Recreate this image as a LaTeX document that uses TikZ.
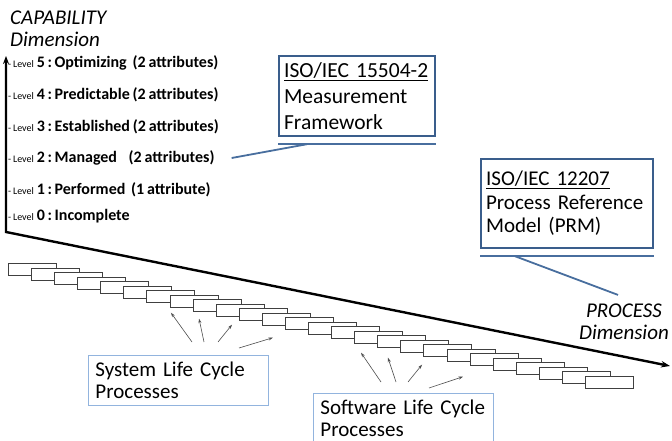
\documentclass[tikz,border=0pt]{standalone}
\usepackage{fontspec}
\setmainfont{Carlito}[WordSpace=0.8]
\usetikzlibrary{arrows.meta}

\definecolor{boxblue}{RGB}{58,94,140}
\definecolor{lineblue}{RGB}{72,110,158}
\definecolor{paleblue}{RGB}{146,180,222}

\begin{document}
\begin{tikzpicture}[x=1pt,y=-1pt,>=Stealth,
  lvl/.style={anchor=west,inner sep=0pt,font=\fontsize{16}{17}\selectfont\bfseries},
  axislab/.style={inner sep=0pt,font=\fontsize{21}{22}\selectfont\itshape},
  axis/.style={line width=2.4pt,line join=miter,{Stealth[length=8pt,width=6pt]}-{Stealth[length=9pt,width=6.5pt]}},
  stdbox/.style={draw=boxblue,line width=2.2pt,anchor=north west,align=left,inner xsep=5pt,font=\fontsize{21.5}{26}\selectfont},
  procbox/.style={draw=paleblue,line width=0.9pt,anchor=north west,align=left,inner xsep=7pt,minimum height=50,text width=166,font=\fontsize{21}{22.5}\selectfont},
  stair/.style={draw=black!75,fill=white,line width=0.7pt,anchor=north west,minimum width=48,minimum height=12,inner sep=0pt},
  link/.style={draw=lineblue,line width=1.8pt},
  pointer/.style={draw=black!70,line width=0.6pt,-{Stealth[length=4.5pt,width=3pt]}}]
  \useasboundingbox (0,0) rectangle (672,441);

  \coordinate (origin) at (6,232);
  \coordinate (captip) at (6,56);
  \coordinate (proctip) at (670,366);
  \draw[axis] (captip) -- (origin) -- (proctip);

  \node[axislab,anchor=north west,align=left] (caplab) at (10,11) {CAPABILITY\\Dimension};
  \node[axislab,align=center] (proclab) at (624,322) {PROCESS\\Dimension};

  \foreach \n/\yy/\txt in {5/63/{Optimizing\ \ (2 attributes)},4/95/{Predictable (2 attributes)},
      3/127/{Established (2 attributes)},2/158/{Managed\ \ \ \ (2 attributes)},
      1/190/{Performed\ \ (1 attribute)},0/216/{Incomplete}}
    \node[lvl] (l\n) at (8,\yy) {{\fontsize{10}{10}\mdseries\selectfont -\ Level} \n\,:\,\txt};

  \foreach \i in {0,...,25}
    \node[stair] (r\i) at ({8+23.08*\i},{263+4.52*\i}) {};

  \node[stdbox,text width=146,minimum height=80] (measbox) at (278,55)
    {\underline{ISO/IEC 15504-2}\\Measurement\\Framework};
  \draw[link] ([yshift=-7pt]measbox.south west) -- ([yshift=-7pt]measbox.south east);
  \draw[link] ([xshift=17pt]l2.east) -- ([xshift=29pt,yshift=-7pt]measbox.south west);

  \node[stdbox,text width=162,minimum height=89,font=\fontsize{21}{23.5}\selectfont] (prmbox) at (480,158)
    {\underline{ISO/IEC 12207}\\Process Reference\\Model (PRM)};
  \draw[link] ([yshift=-7pt]prmbox.south west) -- ([yshift=-7pt]prmbox.south east);
  \draw[link] ([xshift=35pt,yshift=-7pt]prmbox.south west) -- ([xshift=-6pt,yshift=9pt]proclab.north);

  \node[procbox] (sysbox) at (88,355) {System Life Cycle\\Processes};
  \node[procbox] (swbox) at (313,393) {Software Life Cycle\\Processes};

  \foreach \sx/\sy/\ri/\ex/\ey in {104/-13/7/1.4/5.4,116/-13/8/6.4/6.8,130/-13/9/16.3/8.3,151/-7/11/11/12.3}
    \draw[pointer] ([shift={(\sx,\sy)}]sysbox.north west) -- ([shift={(\ex,\ey)}]r\ri.south west);
  \foreach \sx/\sy/\ri/\ex/\ey in {68/-11/15/6.8/9.2,83/-11/16/10.7/9.7,95/-11/18/-1.4/7.6,116/-5/20/-6.6/10.6}
    \draw[pointer] ([shift={(\sx,\sy)}]swbox.north west) -- ([shift={(\ex,\ey)}]r\ri.south west);
\end{tikzpicture}
\end{document}
